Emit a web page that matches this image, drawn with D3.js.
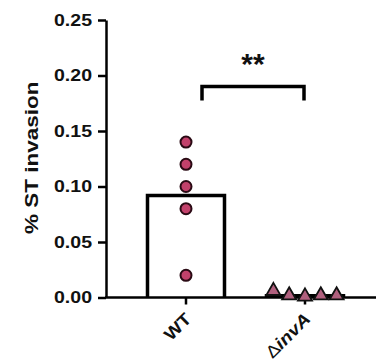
<!DOCTYPE html>
<html><head><meta charset="utf-8">
<script src="https://cdn.jsdelivr.net/npm/d3@7"></script>
<style>
body{margin:0;background:#fff;}
svg{display:block;font-family:"Liberation Sans",Arial,sans-serif;font-weight:bold;}
</style></head><body>
<svg id="c" width="378" height="363"></svg>
<script>
const categories = ["WT", "ΔinvA"];
const wtValues = [0.14, 0.12, 0.10, 0.08, 0.02];
const invAValues = [0.005, 0.001, 0.0, 0.001, 0.001];
const yTicks = [0, 0.05, 0.10, 0.15, 0.20, 0.25];
const yLabel = "% ST invasion";
const sigLabel = "**";

const series = [wtValues, invAValues];
const means = series.map(v => d3.mean(v));

const svg = d3.select("#c");
const stretch = 1.15;
const y = d3.scaleLinear().domain([0, 0.25]).range([297.5, 20]);
const x = d3.scaleBand().domain(categories).range([126.5, 364.5]).paddingInner(0.353).paddingOuter(0.1765);
const axisX = 106;

// y axis
const yAxis = svg.append("g").attr("transform", `translate(${axisX},0)`)
  .call(d3.axisLeft(y).tickValues(yTicks).tickFormat(d3.format(".2f")).tickSize(8).tickSizeOuter(0));
yAxis.select(".domain").attr("stroke", "#000").attr("stroke-width", 2.5);
yAxis.selectAll(".tick line").attr("stroke", "#000").attr("stroke-width", 2.5);
yAxis.selectAll(".tick text").attr("x", 0).attr("fill", "#111")
  .style("font-size", "17px").style("font-weight", "bold")
  .attr("transform", `translate(-14,0) scale(${stretch},1)`);

// x axis
const xAxis = svg.append("g").attr("transform", `translate(0,${y(0)})`);
xAxis.append("line").attr("x1", axisX - 1).attr("x2", 376).attr("y1", 0).attr("y2", 0)
  .attr("stroke", "#000").attr("stroke-width", 2.5);
xAxis.selectAll("line.tk").data(categories).join("line").attr("class", "tk")
  .attr("x1", d => x(d) + x.bandwidth() / 2).attr("x2", d => x(d) + x.bandwidth() / 2)
  .attr("y1", 0).attr("y2", 7).attr("stroke", "#000").attr("stroke-width", 2.5);

// bars (open)
categories.forEach((c, i) => {
  const x0 = x(c), x1 = x(c) + x.bandwidth(), yt = y(means[i]);
  svg.append("path")
    .attr("d", `M${x0},${y(0)} L${x0},${yt} L${x1},${yt} L${x1},${y(0)}`)
    .attr("fill", "none").attr("stroke", "#000").attr("stroke-width", 3.5);
});

// WT points (circles)
const cx0 = x("WT") + x.bandwidth() / 2;
svg.selectAll("circle.wt").data(wtValues).join("circle").attr("class", "wt")
  .attr("cx", cx0).attr("cy", d => y(d)).attr("r", 5.5)
  .attr("fill", "#c2416b").attr("stroke", "#2a0a14").attr("stroke-width", 2);

// invA points (triangles), spread horizontally
const cx1 = x("ΔinvA") + x.bandwidth() / 2;
const spread = 15.8;
const tri = d3.symbol().type(d3.symbolTriangle).size(85);
svg.selectAll("path.inv").data(invAValues).join("path").attr("class", "inv")
  .attr("d", tri)
  .attr("transform", (d, i) => `translate(${cx1 + (i - 2) * spread},${y(d) - 1})`)
  .attr("fill", "#b0607e").attr("stroke", "#111").attr("stroke-width", 1.8);

// x labels
categories.forEach((c, i) => {
  const cx = x(c) + x.bandwidth() / 2;
  const g = svg.append("g").attr("transform", `translate(${cx - 2},${y(0) + 14}) rotate(-45) scale(${stretch},1)`);
  const t = g.append("text").attr("text-anchor", "end").attr("dy", "0.71em")
    .style("font-size", "17px").attr("fill", "#111");
  if (c.startsWith("Δ")) {
    t.append("tspan").text("Δ").style("font-weight", "normal");
    t.append("tspan").text(c.slice(1)).style("font-style", "italic");
  } else {
    t.text(c);
  }
});

// y label
svg.append("g").attr("transform", `translate(38,${(y(0) + y(0.25)) / 2 - 1}) rotate(-90) scale(1.25,1)`)
  .append("text").attr("text-anchor", "middle").style("font-size", "18px").attr("fill", "#111").text(yLabel);

// significance bracket
const bx0 = cx0 + 16, bx1 = cx1 - 1;
const by = y(0.19);
svg.append("path").attr("d", `M${bx0},${by + 14} L${bx0},${by} L${bx1},${by} L${bx1},${by + 14}`)
  .attr("fill", "none").attr("stroke", "#000").attr("stroke-width", 3.5);
svg.append("text").attr("x", (bx0 + bx1) / 2).attr("y", by - 13).attr("text-anchor", "middle")
  .style("font-size", "30px").attr("fill", "#111").text(sigLabel);
</script>
</body></html>
